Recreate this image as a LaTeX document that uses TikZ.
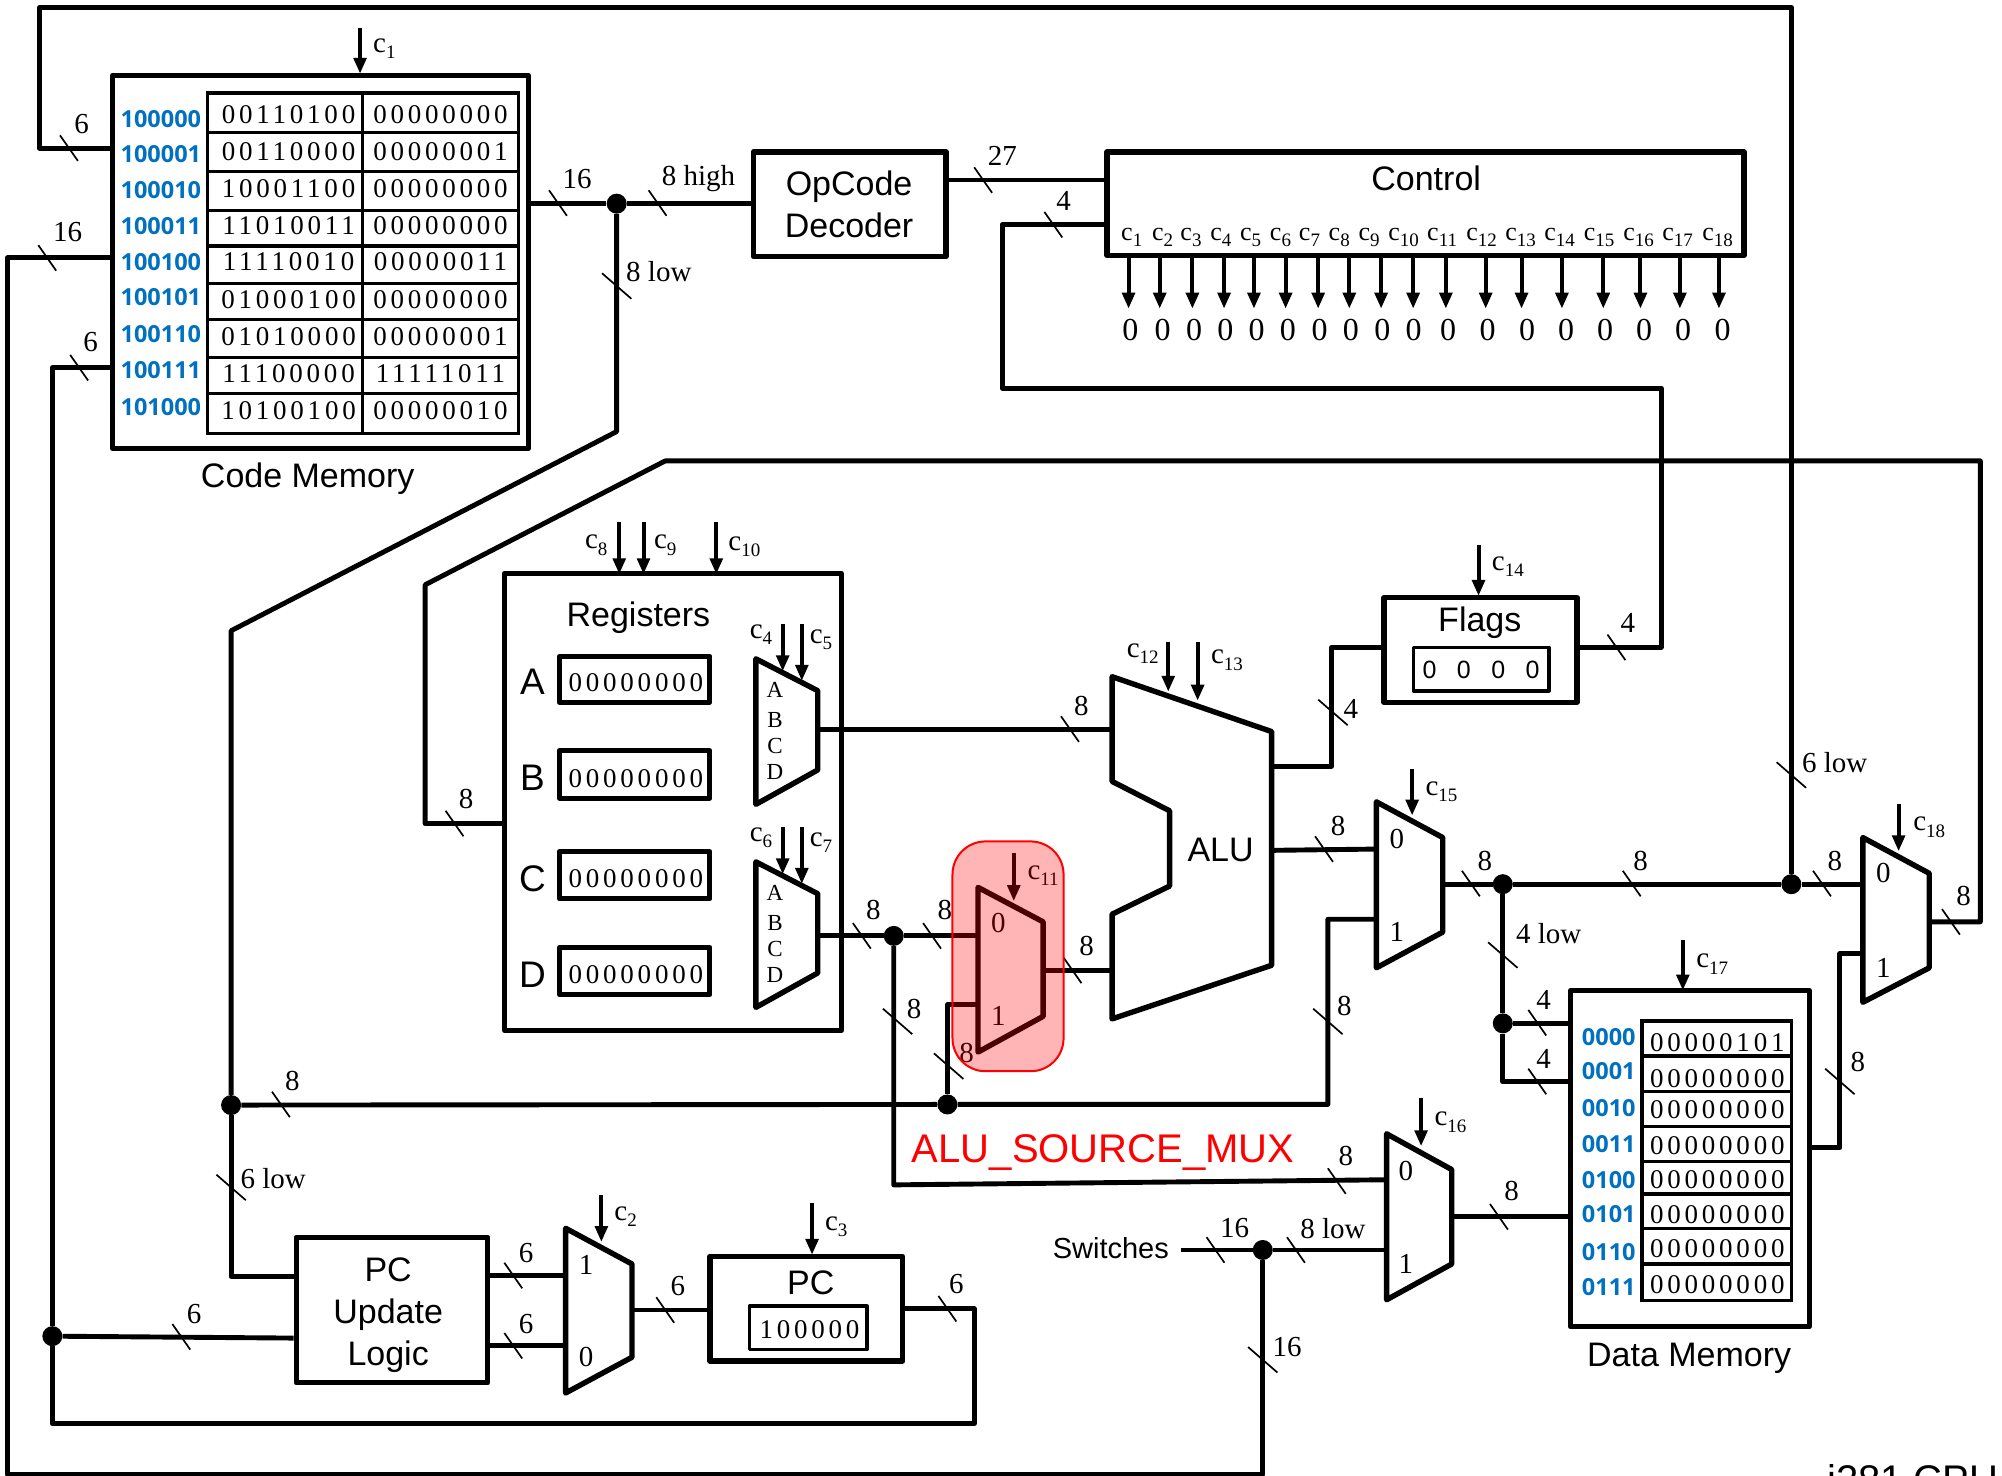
\documentclass[tikz,border=0pt]{standalone}
\usepackage{fontspec}
\usetikzlibrary{arrows.meta,fit}
\setmainfont{Liberation Serif}
\setsansfont{Liberation Sans}
\newfontfamily\bitsf[LetterSpace=14]{Liberation Serif}
\newfontfamily\addrf{Open Sans}
\newcommand\fsz[1]{\fontsize{#1}{#1}\selectfont}
\newcommand\cc[1]{c\raisebox{-.22em}{\fsz{19}#1}}
\definecolor{addrblue}{HTML}{0070C0}
\newcounter{labn}
\tikzset{
  wire/.style={line width=4.9pt,line join=round},
  blockbox/.style={draw,line width=5.3pt,inner sep=0pt,line join=round},
  regblock/.style={draw,line width=4.8pt,inner sep=0pt,line join=round},
  cellbox/.style={draw,line width=5pt,inner sep=0pt,line join=round},
  tabline/.style={line width=3.2pt},
  muxline/.style={line width=5.4pt,line join=round},
  tickline/.style={line width=1.7pt},
  ctl/.style={line width=4pt,-{Triangle[width=12.5pt,length=16pt]},shorten >=-1pt},
  dot/.style={circle,fill=black,inner sep=0pt,minimum size=20pt},
  buslabel/.style={font=\fsz{29},inner sep=0pt},
  clabel/.style={font=\fsz{29},inner sep=0pt},
  sansl/.style={font=\sffamily\fsz{34},inner sep=0pt,align=center},
  bits/.style={font=\bitsf\fsz{27},inner sep=0pt},
  addr/.style={font=\addrf\bfseries\fsz{23.5},text=addrblue,inner sep=0pt},
  small/.style={font=\fsz{23},inner sep=0pt},
}
\newcommand\lab[3]{\stepcounter{labn}\node[buslabel] (lab\arabic{labn}) at (#1,#2) {#3};}
\newcommand\sty[4]{\stepcounter{labn}\node[#1] (lab\arabic{labn}) at (#2,#3) {#4};}
\newcommand\htick[2]{\draw[tickline] ({#1-7},{#2-10}) -- ++(14,20);}
\newcommand\vtick[2]{\draw[tickline] ({#1-11.5},{#2-10}) -- ++(23,20);}
\newcommand\ctlarrow[3]{\draw[ctl] (#1,#2) -- (#1,#3);}
\newcommand\muxshape[6]{\draw[muxline] (#1,#2) -- (#3,#4) -- (#3,#5) -- (#1,#6) -- cycle;}
\begin{document}
\begin{tikzpicture}[x=1.27679pt,y=-1.27679pt]
\clip (0,0) rectangle (1568,1156);
\fill[white] (0,0) rectangle (1568,1156);
% ---------- blocks ----------
\node[blockbox,fit={(88,59)(414,351)}] (codemem) {};
\node[blockbox,fit={(590,119)(741,201)}] (opdec) {};
\node[blockbox,fit={(867,119)(1366,200)}] (control) {};
\node[regblock,fit={(395,449)(659,807)}] (regs) {};
\node[blockbox,fit={(1084,468)(1235,550)}] (flags) {};
\node[blockbox,fit={(1230,776)(1417,1039)}] (datamem) {};
\node[blockbox,fit={(232,969)(382,1083)}] (pcul) {};
\node[blockbox,fit={(556,984)(707,1066)}] (pc) {};
\node[cellbox,fit={(1107,507)(1213,541)},line width=3.6pt] (flagbox) {};
\node[cellbox,fit={(587,1023)(679,1057)},line width=3.6pt] (pcbox) {};
\node[cellbox,fit={(438,514)(556,550)}] (rega) {};
\node[cellbox,fit={(438,588)(556,625)}] (regb) {};
\node[cellbox,fit={(438,667)(556,704)}] (regc) {};
\node[cellbox,fit={(438,742)(556,779)}] (regd) {};
% ---------- code memory table ----------
\draw[tabline,line width=3.6pt] (162.5,73) rectangle (406,339.5);
\draw[tabline] (284,73) -- (284,339.5);
\foreach \y in {103.6,134.5,165,192.6,222,250,280,308} \draw[tabline] (162.5,\y) -- (406,\y);
\foreach \y/\a/\b in {90/00110100/00000000,119/00110000/00000001,148/10001100/00000000,177/11010011/00000000,205/11110010/00000011,235/01000100/00000000,264/01010000/00000001,293/11100000/11111011,322/10100100/00000010}{
  \sty{bits}{226}{\y}{\a}\sty{bits}{345}{\y}{\b}}
\foreach \y/\a in {93/100000,121/100001,149/100010,177/100011,205/100100,233/100101,262/100110,290/100111,319/101000}{
  \sty{addr}{126}{\y}{\a}}
\sty{sansl}{241}{375}{Code Memory}
% ---------- data memory table ----------
\draw[tabline,line width=3.6pt] (1286,799.7) rectangle (1403,1018.5);
\foreach \y in {827,855,882.5,909.7,935.2,962,990} \draw[tabline] (1286,\y) -- (1403,\y);
\foreach \y/\a in {817/00000101,845/00000000,869/00000000,897/00000000,924/00000000,951/00000000,978/00000000,1006/00000000}{
  \sty{bits}{1345}{\y}{\a}}
\foreach \y/\a in {812/0000,839/0001,868/0010,896/0011,924/0100,951/0101,981/0110,1008/0111}{
  \sty{addr}{1260}{\y}{\a}}
\sty{sansl}{1323}{1064}{Data Memory}
% ---------- text in blocks ----------
\node[sansl,font=\sffamily\fontsize{34}{42}\selectfont] (optext) at (665,160) {OpCode\\Decoder};
\node[sansl,font=\sffamily\fontsize{34}{42}\selectfont] (pctext) at (304,1030) {PC\\Update\\Logic};
\sty{sansl}{1117}{140}{Control}
\sty{sansl}{500}{483.5}{Registers}
\sty{sansl}{1159}{488}{Flags}
\sty{sansl}{635}{1005}{PC}
\sty{sansl}{956}{665.5}{ALU}
\sty{sansl}{870}{977.5}{\fsz{29}Switches}
\foreach \l/\y in {A/534,B/609,C/688,D/763.5}{\sty{sansl}{417}{\y}{\fsz{37}\l}}
\foreach \y in {534.5,609.5,688.5,763.5}{\sty{bits}{498}{\y}{00000000}}
\sty{bits}{634}{1041}{100000}
\sty{sansl}{1160}{524.7}{\fsz{25}0\hspace{20.4pt}0\hspace{20.4pt}0\hspace{20.4pt}0}
% ---------- control outputs ----------
\foreach \x in {883.9,908.3,933.9,958.7,982.1,1006.9,1032.4,1056.8,1081.7,1106.8,1132.4,1163.6,1191.7,1223.3,1255.7,1284.8,1315.7,1346.3}{
  \draw[ctl] (\x,200) -- (\x,241);}
\foreach \n/\x in {1/886.4,2/910.5,3/932.8,4/956.2,5/979.5,6/1002.9,7/1025.6,8/1048.9,9/1072.3,10/1099.3,11/1129.5,12/1160.4,13/1191,14/1221.5,15/1252.5,16/1283.4,17/1314,18/1345.2}{
  \sty{clabel}{\x}{186}{\fsz{26}\cc{\n}}}
\foreach \x in {885.3,910.5,935.3,959.8,984.2,1008.7,1033.5,1058,1082.7,1107.2,1134.2,1165.1,1196,1226.6,1257.1,1287.7,1318.3,1349.2}{
  \sty{buslabel}{\x}{258.5}{\fsz{32}0}}
% ---------- muxes ----------
\muxshape{592}{516}{640.5}{541}{603}{630}
\muxshape{592}{675}{640.5}{700}{762}{789}
\muxshape{766}{695}{817}{722}{796}{824}
\muxshape{1078}{628}{1130}{656}{730}{758}
\muxshape{1459}{656}{1511}{684}{758}{785}
\muxshape{1086}{888}{1137}{916}{990}{1018}
\muxshape{443}{962}{495}{990}{1063}{1091}
\foreach \l/\y in {A/540.5,B/564,C/584,D/605,A/699.5,B/723,C/743,D/764}{\sty{small}{607}{\y}{\l}}
\lab{782}{723}{0}\lab{782}{796}{1}
\lab{1094}{657}{0}\lab{1094}{730}{1}
\lab{1475}{684}{0}\lab{1475}{758}{1}
\lab{1101}{917}{0}\lab{1101}{990}{1}
\lab{459}{991}{1}\lab{459}{1063}{0}
% ---------- ALU ----------
\draw[muxline] (871,530) -- (996,573) -- (996,756) -- (871,798) -- (871,716) -- (916,694) -- (916,635) -- (871,612) -- cycle;
\coordinate (alua) at (871,571.5);
\coordinate (alub) at (871,760);
\coordinate (aluf) at (996,600);
\coordinate (aluo) at (996,666);
% ---------- named points ----------
\coordinate (mA) at (640.5,571.5);
\coordinate (mB) at (640.5,733);
\coordinate (mSin0) at (766,733);
\coordinate (mSin1) at (766,787);
\coordinate (mSo) at (817,760);
\coordinate (m15i0) at (1078,665);
\coordinate (m15i1) at (1078,720);
\coordinate (m15o) at (1130,692.5);
\coordinate (m18i0) at (1459,692.5);
\coordinate (m18i1) at (1459,747);
\coordinate (m18o) at (1511,722);
\coordinate (m16i0) at (1086,924);
\coordinate (m16i1) at (1086,979);
\coordinate (m16o) at (1137,953);
\coordinate (m2i1) at (443,999);
\coordinate (m2i0) at (443,1054);
\coordinate (m2o) at (495,1026);
\node[dot] (j1) at (483,159.5) {};
\node[dot] (j2) at (700,733) {};
\node[dot] (j3) at (742,865) {};
\node[dot] (j4) at (181,865.5) {};
\node[dot] (j5) at (1177,692.5) {};
\node[dot] (j6) at (1403,692.5) {};
\node[dot] (j7) at (1177,801.5) {};
\node[dot] (j8) at (989,979) {};
\node[dot] (j9) at (41,1046.5) {};
\coordinate (swin) at (925,979);
% ---------- wires ----------
\draw[wire] (codemem.west |- 0,116) -- (31,116) -- (31,6) -- (1403,6) -- (j6);
\draw[wire] (codemem.east |- j1) -- (j1) -- (opdec.west |- j1);
\draw[wire] (opdec.east |- 0,141) -- (control.west |- 0,141);
\draw[wire] (control.west |- 0,176) -- (785,176) -- (785,304) -- (1301,304) -- (1301,507) -- (flags.east |- 0,507);
\draw[wire] (j1) -- (483,338) -- (181,494) -- (j4);
\draw[wire] (j4) -- (181,1000) -- (pcul.west |- 0,1000);
\draw[wire] (regs.west |- 0,645) -- (333,645) -- (333,458) -- (521,361) -- (1551,361) -- (1551,722) -- (m18o);
\draw[wire] (mA) -- (alua);
\draw[wire] (mB) -- (j2) -- (mSin0);
\draw[wire] (j2) -- (700,928) -- (m16i0);
\draw[wire] (j3) -- (742,787) -- (mSin1);
\draw[wire] (mSo) -- (alub);
\draw[wire] (aluf) -- (1043,600) -- (1043,507) -- (flags.west |- 0,507);
\draw[wire] (aluo) -- (m15i0);
\draw[wire] (m15i1) -- (1040,720) -- (1040,865) -- (j3) -- (j4);
\draw[wire] (m15o) -- (j5) -- (j6) -- (m18i0);
\draw[wire] (j5) -- (j7) -- (datamem.west |- j7);
\draw[wire] (j7) -- (1177,847) -- (datamem.west |- 0,847);
\draw[wire] (datamem.east |- 0,899) -- (1441,899) -- (1441,747) -- (m18i1);
\draw[wire] (m16o) -- (datamem.west |- m16o);
\draw[wire] (swin) -- (j8) -- (m16i1);
\draw[wire] (j8) -- (989,1155) -- (6,1155) -- (6,202) -- (codemem.west |- 0,202);
\draw[wire] (codemem.west |- 0,288) -- (41,288) -- (j9) -- (41,1115) -- (763,1115) -- (763,1025) -- (pc.east |- 0,1025);
\draw[wire] (pcul.west |- 0,1048) -- (j9);
\draw[wire] (pcul.east |- m2i1) -- (m2i1);
\draw[wire] (pcul.east |- m2i0) -- (m2i0);
\draw[wire] (m2o) -- (pc.west |- m2o);
% ---------- ticks ----------
\htick{54}{116}\htick{37}{202}\htick{62}{288}
\htick{437}{159}\htick{515}{159}\vtick{483}{224}
\htick{770}{141}\htick{825}{176}\htick{1266}{507}
\vtick{1044}{558}
\htick{356}{645}\htick{838}{571}
\htick{675}{733}\htick{730}{733}\vtick{703}{800}\vtick{743}{835}
\htick{840}{760}\htick{1037}{665}\vtick{1040}{800}
\htick{1152}{692}\htick{1278}{692}\htick{1427}{692}
\vtick{1403}{607}\vtick{1177}{748}
\htick{1204}{801}\htick{1204}{847}
\vtick{1441}{847}\htick{1528}{722}
\htick{1047}{925}\htick{952}{979}\htick{1015}{979}\vtick{989}{1065}
\htick{1174}{953}
\htick{220}{865}\vtick{181}{930}
\htick{402}{999}\htick{402}{1054}\htick{142}{1047}
\htick{521}{1026}\htick{742}{1025}
% ---------- bus labels ----------
\lab{64}{97}{6}\lab{53}{182}{16}\lab{71}{268}{6}
\lab{452}{140}{16}\lab{547}{140}{8 high}\lab{516}{213}{8 low}
\lab{785}{122}{27}\lab{833}{157}{4}\lab{1275}{488}{4}
\lab{1058}{555}{4}\lab{365}{626}{8}\lab{847}{553}{8}
\lab{684}{713}{8}\lab{740}{713}{8}\lab{716}{790}{8}\lab{757}{825}{8}
\lab{851}{741}{8}\lab{1048}{647}{8}\lab{1053}{788}{8}
\lab{1163}{674}{8}\lab{1285}{674}{8}\lab{1437}{674}{8}
\lab{1437}{597}{6 low}\lab{1213}{731}{4 low}
\lab{1209}{783}{4}\lab{1209}{829}{4}
\lab{1455}{832}{8}\lab{1538}{702}{8}
\lab{1054}{905}{8}\lab{967}{962}{16}\lab{1044}{962}{8 low}\lab{1008}{1055}{16}
\lab{1184}{933}{8}
\lab{229}{847}{8}\lab{214}{923}{6 low}
\lab{412}{981}{6}\lab{412}{1037}{6}\lab{152}{1029}{6}
\lab{531}{1007}{6}\lab{749}{1006}{6}
% ---------- control arrows ----------
\ctlarrow{282}{22}{57}\sty{clabel}{301}{38}{\cc{1}}
\ctlarrow{485}{409}{449}\sty{clabel}{467}{427}{\cc{8}}
\ctlarrow{504}{409}{449}\sty{clabel}{521}{427}{\cc{9}}
\ctlarrow{561}{409}{449}\sty{clabel}{583}{428}{\cc{10}}
\ctlarrow{613}{489}{525}\sty{clabel}{596}{497}{\cc{4}}
\ctlarrow{628}{489}{532.5}\sty{clabel}{643}{501}{\cc{5}}
\ctlarrow{613}{648}{684}\sty{clabel}{596}{656}{\cc{6}}
\ctlarrow{628}{648}{691.5}\sty{clabel}{643}{660}{\cc{7}}
\ctlarrow{794}{668}{705}\sty{clabel}{817}{686}{\cc{11}}
\ctlarrow{915}{503}{541}\sty{clabel}{895}{512}{\cc{12}}
\ctlarrow{938}{503}{548}\sty{clabel}{961}{517}{\cc{13}}
\ctlarrow{1158}{427}{466}\sty{clabel}{1181}{444}{\cc{14}}
\ctlarrow{1106}{602}{638}\sty{clabel}{1129}{620}{\cc{15}}
\ctlarrow{1487}{630}{666}\sty{clabel}{1511}{648}{\cc{18}}
\ctlarrow{1113}{860}{897}\sty{clabel}{1136}{879}{\cc{16}}
\ctlarrow{1318}{736}{775}\sty{clabel}{1341}{755}{\cc{17}}
\ctlarrow{471}{936}{972}\sty{clabel}{490}{953}{\cc{2}}
\ctlarrow{636}{942}{982}\sty{clabel}{655}{961}{\cc{3}}
% ---------- title and highlight ----------
\sty{sansl,text=red}{864}{903}{\fsz{40}ALU\_SOURCE\_MUX}
\stepcounter{labn}\node[font=\sffamily\fsz{40},inner sep=0pt,anchor=base west] (title) at (1431,1170) {i281 CPU};
\draw[red,line width=2pt,fill=red,fill opacity=.29,rounded corners=33pt] (746,659) rectangle (833,839);
\end{tikzpicture}
\end{document}
